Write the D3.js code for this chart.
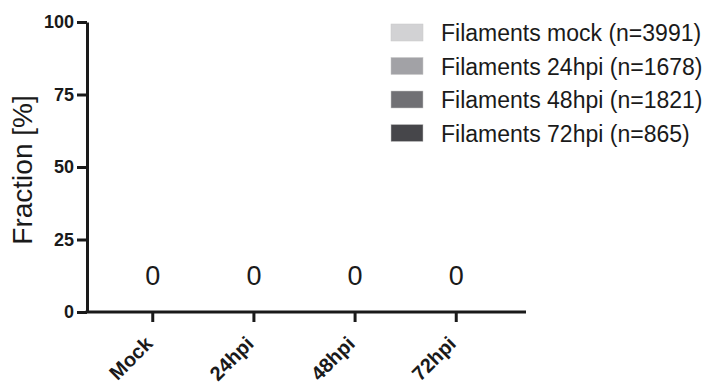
<!DOCTYPE html>
<html>
<head>
<meta charset="utf-8">
<script src="https://cdn.jsdelivr.net/npm/d3@7"></script>
<style>
  body { margin: 0; background: #fff; }
  text { font-family: "Liberation Sans", Arial, sans-serif; }
</style>
</head>
<body>
<div id="chart"></div>
<script>
// data
var categories = ["Mock", "24hpi", "48hpi", "72hpi"];
var fractions = [0, 0, 0, 0];
var seriesNames = ["Filaments mock (n=3991)", "Filaments 24hpi (n=1678)", "Filaments 48hpi (n=1821)", "Filaments 72hpi (n=865)"];
var seriesColors = ["#d2d2d4", "#a2a2a6", "#707074", "#46464a"];
var yTicks = [0, 25, 50, 75, 100];

var W = 715, H = 387;
var margin = {top: 22, left: 87, right: 193, bottom: 75};
var width = W - margin.left - margin.right,
    height = H - margin.top - margin.bottom;

var svg = d3.select("#chart").append("svg")
  .attr("width", W).attr("height", H);

var g = svg.append("g")
  .attr("transform", "translate(" + margin.left + "," + margin.top + ")");

var x = d3.scaleBand().domain(categories).range([0, width]).padding(0.3);
var y = d3.scaleLinear().domain([0, 100]).range([height, 0]);

// bars (all zero height)
g.selectAll(".bar")
  .data(fractions)
  .enter().append("rect")
  .attr("class", "bar")
  .attr("x", function(d, i) { return x(categories[i]); })
  .attr("width", x.bandwidth())
  .attr("y", function(d) { return y(d); })
  .attr("height", function(d) { return y(0) - y(d); })
  .style("fill", function(d, i) { return seriesColors[i]; });

// value labels
g.selectAll(".val")
  .data(fractions)
  .enter().append("text")
  .attr("class", "val")
  .attr("x", function(d, i) { return x(categories[i]) + x.bandwidth() / 2; })
  .attr("y", function(d) { return y(d) - 27; })
  .attr("text-anchor", "middle")
  .style("font-size", "27px")
  .style("fill", "#1a1a1a")
  .text(function(d) { return d; });

// y axis
var yAxis = g.append("g")
  .call(d3.axisLeft(y).tickValues(yTicks).tickSize(10).tickSizeOuter(0).tickPadding(3));
yAxis.select(".domain").attr("stroke", "#1a1a1a").attr("stroke-width", 3);
yAxis.selectAll(".tick line").attr("stroke", "#1a1a1a").attr("stroke-width", 3);
yAxis.selectAll(".tick text")
  .style("font-size", "18px").style("font-weight", "bold").style("fill", "#1a1a1a")
  .attr("font-family", null);

// x axis
var xAxis = g.append("g")
  .attr("transform", "translate(0," + height + ")")
  .call(d3.axisBottom(x).tickSize(10).tickSizeOuter(0));
xAxis.select(".domain").attr("stroke", "#1a1a1a").attr("stroke-width", 3)
  .attr("d", "M-1.5,0H" + (width + 4));
xAxis.selectAll(".tick line").attr("stroke", "#1a1a1a").attr("stroke-width", 3);
xAxis.selectAll(".tick text")
  .attr("y", 0).attr("dy", null)
  .attr("transform", "translate(1,33) rotate(-45)")
  .attr("text-anchor", "end")
  .style("font-size", "20px").style("font-weight", "bold").style("fill", "#1a1a1a")
  .attr("font-family", null);

// y axis title
svg.append("text")
  .attr("transform", "translate(32,170) rotate(-90)")
  .attr("text-anchor", "middle")
  .style("font-size", "28px")
  .style("fill", "#1a1a1a")
  .text("Fraction [%]");

// legend
var legend = svg.append("g").attr("transform", "translate(391,24)");
var rows = legend.selectAll(".row")
  .data(seriesNames)
  .enter().append("g")
  .attr("transform", function(d, i) { return "translate(0," + (i * 33.5) + ")"; });
rows.append("rect")
  .attr("width", 32).attr("height", 17)
  .style("fill", function(d, i) { return seriesColors[i]; })
  .style("stroke", "#c8c8c8").style("stroke-width", 0.5);
rows.append("text")
  .attr("x", 50).attr("y", 17)
  .style("font-size", "23px")
  .style("fill", "#1a1a1a")
  .text(function(d) { return d; });
</script>
</body>
</html>
